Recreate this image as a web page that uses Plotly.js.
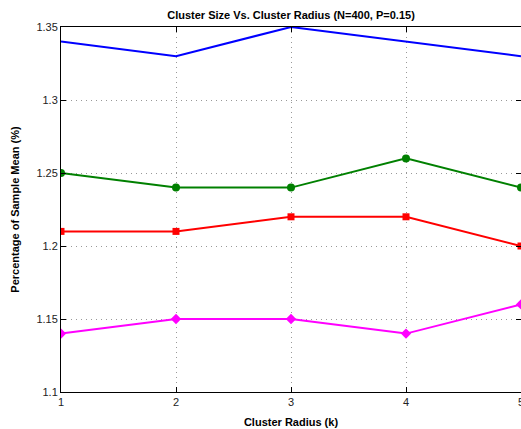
<!DOCTYPE html>
<html>
<head>
<script src="https://cdn.plot.ly/plotly-3.0.1.min.js"></script>
<style>html,body{margin:0;padding:0;background:#fff;}#chart{width:521px;height:429px;}</style>
</head>
<body>
<div id="chart"></div>
<script>
const radius = [1, 2, 3, 4, 5];
const xTickLabels = ['1', '2', '3', '4', '5'];
const seriesBlue = [1.34, 1.33, 1.35, 1.34, 1.33];
const seriesGreen = [1.25, 1.24, 1.24, 1.26, 1.24];
const seriesRed = [1.21, 1.21, 1.22, 1.22, 1.20];
const seriesMagenta = [1.14, 1.15, 1.15, 1.14, 1.16];

const traces = [
  {x: radius, y: seriesBlue, mode: 'lines', line: {color: '#0000ff', width: 2}},
  {x: radius, y: seriesGreen, mode: 'lines+markers', line: {color: '#008000', width: 2}, marker: {symbol: 'circle', size: 8, color: '#008000'}},
  {x: radius, y: seriesRed, mode: 'lines+markers', line: {color: '#ff0000', width: 2}, marker: {symbol: 'square', size: 7, color: '#ff0000'}},
  {x: radius, y: seriesMagenta, mode: 'lines+markers', line: {color: '#ff00ff', width: 2}, marker: {symbol: 'diamond', size: 8, color: '#ff00ff'}}
];

const FAM = 'Liberation Sans, Arial, sans-serif';
const fnt = {family: FAM, size: 11, color: '#222'};
const layout = {
  width: 521, height: 429,
  margin: {l: 61, r: 0, t: 27, b: 37},
  paper_bgcolor: '#fff', plot_bgcolor: '#fff',
  showlegend: false,
  font: fnt,
  title: {text: '<b>Cluster Size Vs. Cluster Radius (N=400, P=0.15)</b>', font: {family: FAM, size: 11, color: '#000'}, x: 0.5, xref: 'paper', y: 1, yref: 'paper', yanchor: 'bottom', pad: {b: 8}},
  xaxis: {
    range: [1, 5], tickmode: 'array', tickvals: radius, ticktext: xTickLabels,
    showline: true, linecolor: '#000', linewidth: 1, mirror: 'ticks',
    ticks: 'inside', ticklen: 5, tickcolor: '#000',
    showgrid: true, gridcolor: '#999', griddash: '1px,4px', gridwidth: 1,
    zeroline: false,
    title: {text: '<b>Cluster Radius (k)</b>', font: {family: FAM, size: 11, color: '#000'}, standoff: 11},
    tickfont: fnt
  },
  yaxis: {
    range: [1.1, 1.35], tickmode: 'linear', tick0: 1.1, dtick: 0.05,
    showline: true, linecolor: '#000', linewidth: 1, mirror: 'ticks',
    ticks: 'inside', ticklen: 5, tickcolor: '#000',
    showgrid: true, gridcolor: '#999', griddash: '1px,4px', gridwidth: 1,
    zeroline: false,
    title: {text: '<b>Percentage of Sample Mean (%)</b>', font: {family: FAM, size: 11, color: '#000'}, standoff: 14},
    tickfont: fnt
  },
  annotations: [
    {x: radius[4], xref: 'x', y: 0, yref: 'paper', yanchor: 'top', xanchor: 'center', text: xTickLabels[4], showarrow: false, font: fnt, yshift: -2}
  ]
};
Plotly.newPlot('chart', traces, layout, {displayModeBar: false, staticPlot: true});
</script>
</body>
</html>
